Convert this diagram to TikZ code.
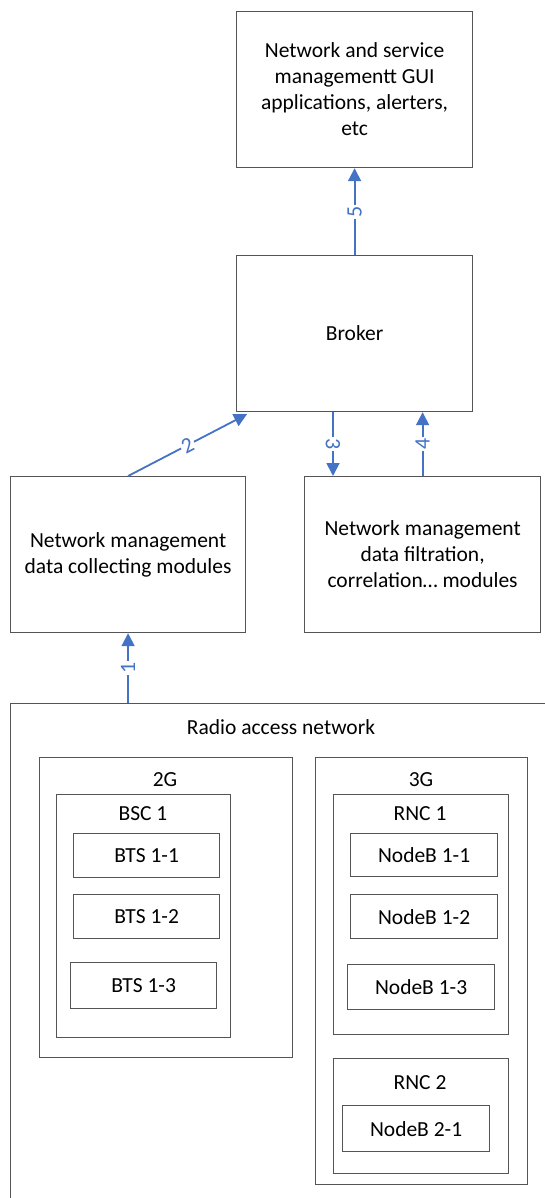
\documentclass[tikz,border=0pt]{standalone}
\usepackage{fontspec}
\setmainfont{Carlito}
\usetikzlibrary{arrows.meta}
\definecolor{boxgray}{RGB}{85,85,85}
\definecolor{arrowblue}{RGB}{68,114,196}
\begin{document}
\begin{tikzpicture}[x=1pt,y=-1pt,
  box/.style={draw=boxgray, line width=1.2pt, inner sep=0pt, anchor=north west, align=center, font=\fontsize{21.5}{26}\selectfont},
  lbl/.style={font=\fontsize{21.5}{26}\selectfont, inner sep=0pt},
  conn/.style={draw=arrowblue, line width=1.8pt, -{Triangle[length=13pt,width=13pt]}},
  num/.style={fill=white, text=arrowblue, inner sep=1.5pt, font=\fontsize{22}{22}\selectfont}]
\useasboundingbox (0,0) rectangle (545,1198);
\clip (0,0) rectangle (545,1198);
% upper part
\node[box, minimum width=236pt, minimum height=156pt] (gui) at (236,11) {Network and service\\managementt GUI\\applications, alerters,\\etc};
\node[box, minimum width=236pt, minimum height=156pt] (broker) at (236,255) {Broker};
\node[box, minimum width=235pt, minimum height=156pt] (collect) at (10,476) {Network management\\data collecting modules};
\node[box, minimum width=236pt, minimum height=156pt] (filter) at (304,476) {Network management\\data filtration,\\correlation\ldots\ modules};
% radio access network
\node[box, minimum width=600pt, minimum height=600pt] (ran) at (10,703) {};
\node[lbl] (ranl) at (281,727) {Radio access network};
\node[box, minimum width=253pt, minimum height=300pt] (g2) at (39,757) {};
\node[lbl] (g2l) at (165,780) {2G};
\node[box, minimum width=174pt, minimum height=243pt] (bsc) at (56,794) {};
\node[lbl] (bscl) at (143,814) {BSC 1};
\node[box, minimum width=146pt, minimum height=44pt] (bts1) at (73,833) {BTS 1-1};
\node[box, minimum width=146pt, minimum height=44pt] (bts2) at (73,894) {BTS 1-2};
\node[box, minimum width=146pt, minimum height=46pt] (bts3) at (70,962) {BTS 1-3};
\node[box, minimum width=212pt, minimum height=427pt] (g3) at (315,757) {};
\node[lbl] (g3l) at (421,780) {3G};
\node[box, minimum width=175pt, minimum height=240pt] (rnc1) at (333,794) {};
\node[lbl] (rnc1l) at (420,814) {RNC 1};
\node[box, minimum width=147pt, minimum height=43pt] (nb11) at (350,833) {NodeB 1-1};
\node[box, minimum width=147pt, minimum height=44pt] (nb12) at (350,894) {NodeB 1-2};
\node[box, minimum width=147pt, minimum height=45pt] (nb13) at (347,964) {NodeB 1-3};
\node[box, minimum width=175pt, minimum height=115pt] (rnc2) at (333,1058) {};
\node[lbl] (rnc2l) at (420,1083) {RNC 2};
\node[box, minimum width=147pt, minimum height=46pt] (nb21) at (342,1105) {NodeB 2-1};
% connectors
\coordinate (c1) at (collect.south |- ran.north);
\draw[conn] (c1) -- node[num, rotate=90] {1} (collect.south);
\coordinate (c2) at ([xshift=11pt,yshift=-2pt]broker.south west);
\draw[conn] (collect.north) -- node[num, sloped] {2} (c2);
\coordinate (c3) at ([xshift=97pt]broker.south west);
\draw[conn] (c3) -- node[num, rotate=-90] {3} (c3 |- filter.north);
\draw[conn] (filter.north) -- node[num, rotate=90] {4} (filter.north |- broker.south);
\draw[conn] (broker.north) -- node[num, rotate=90] {5} (gui.south);
\end{tikzpicture}
\end{document}
